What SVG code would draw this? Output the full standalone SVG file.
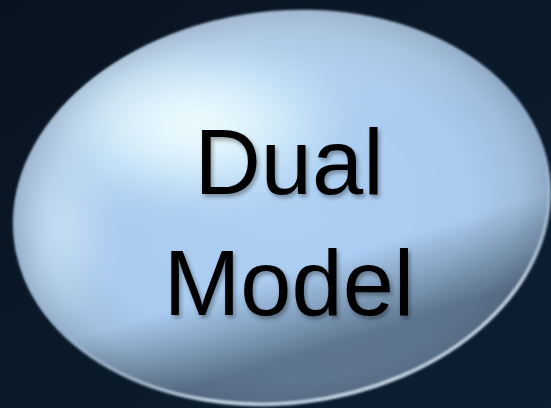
<svg xmlns="http://www.w3.org/2000/svg" width="551" height="408" viewBox="0 0 551 408">
  <defs>
    <linearGradient id="bg" x1="0" y1="0" x2="1" y2="1">
      <stop offset="0" stop-color="#09131f"/>
      <stop offset="1" stop-color="#0c1f33"/>
    </linearGradient>
    <radialGradient id="body" cx="0.5" cy="0.5" r="0.5">
      <stop offset="0" stop-color="#aed0f3"/>
      <stop offset="0.7" stop-color="#a9cbef"/>
      <stop offset="0.88" stop-color="#a0bfdf"/>
      <stop offset="1" stop-color="#8ea9c6"/>
    </radialGradient>
    <linearGradient id="shade" x1="0.35" y1="0" x2="0.6" y2="1">
      <stop offset="0" stop-color="#ffffff" stop-opacity="0.2"/>
      <stop offset="0.4" stop-color="#ffffff" stop-opacity="0"/>
      <stop offset="0.66" stop-color="#223244" stop-opacity="0"/>
      <stop offset="0.86" stop-color="#223244" stop-opacity="0.55"/>
      <stop offset="1" stop-color="#223244" stop-opacity="0.5"/>
    </linearGradient>
    <linearGradient id="rimg" x1="0.3" y1="0" x2="0.6" y2="1">
      <stop offset="0" stop-color="#cfe4f5" stop-opacity="0"/>
      <stop offset="0.6" stop-color="#cfe4f5" stop-opacity="0"/>
      <stop offset="0.9" stop-color="#d5e6f4" stop-opacity="0.9"/>
      <stop offset="1" stop-color="#d5e6f4" stop-opacity="0.9"/>
    </linearGradient>
    <radialGradient id="hl" cx="0.5" cy="0.5" r="0.5">
      <stop offset="0" stop-color="#f6ffff" stop-opacity="1"/>
      <stop offset="0.5" stop-color="#e6fbff" stop-opacity="0.7"/>
      <stop offset="1" stop-color="#d8f4ff" stop-opacity="0"/>
    </radialGradient>
    <radialGradient id="edgehl" cx="0.5" cy="0.5" r="0.5">
      <stop offset="0" stop-color="#e0f2ff" stop-opacity="0.7"/>
      <stop offset="1" stop-color="#e0f2ff" stop-opacity="0"/>
    </radialGradient>
    <filter id="ts" x="-10%" y="-10%" width="130%" height="130%">
      <feGaussianBlur in="SourceAlpha" stdDeviation="2"/>
      <feOffset dx="2" dy="3" result="b"/>
      <feComponentTransfer><feFuncA type="linear" slope="0.35"/></feComponentTransfer>
      <feMerge><feMergeNode/><feMergeNode in="SourceGraphic"/></feMerge>
    </filter>
    <filter id="soft" x="-30%" y="-30%" width="160%" height="160%"><feGaussianBlur stdDeviation="16"/></filter>
    <filter id="edge"><feGaussianBlur stdDeviation="0.8"/></filter>
    <clipPath id="clipE">
      <ellipse cx="282" cy="208" rx="270" ry="197" transform="rotate(-7 282 208)"/>
    </clipPath>
  </defs>
  <rect width="551" height="408" fill="url(#bg)"/>
  <g id="node-dual-model">
    <g transform="rotate(-7 282 208)" filter="url(#edge)">
      <ellipse cx="282" cy="208" rx="270" ry="197" fill="url(#body)"/>
      <ellipse cx="282" cy="208" rx="270" ry="197" fill="url(#shade)"/>
      <ellipse cx="282" cy="208" rx="268" ry="195" fill="none" stroke="url(#rimg)" stroke-width="3"/>
    </g>
    <g clip-path="url(#clipE)">
      <ellipse cx="195" cy="125" rx="160" ry="85" fill="url(#hl)" filter="url(#soft)"/>
      <ellipse cx="60" cy="230" rx="50" ry="110" fill="url(#edgehl)" filter="url(#soft)"/>
    </g>
    <g font-family="'Liberation Sans', Arial, sans-serif" font-size="92" fill="#000" text-anchor="middle" filter="url(#ts)">
      <text x="289" y="194">Dual</text>
      <text x="289" y="315">Model</text>
    </g>
  </g>
</svg>
